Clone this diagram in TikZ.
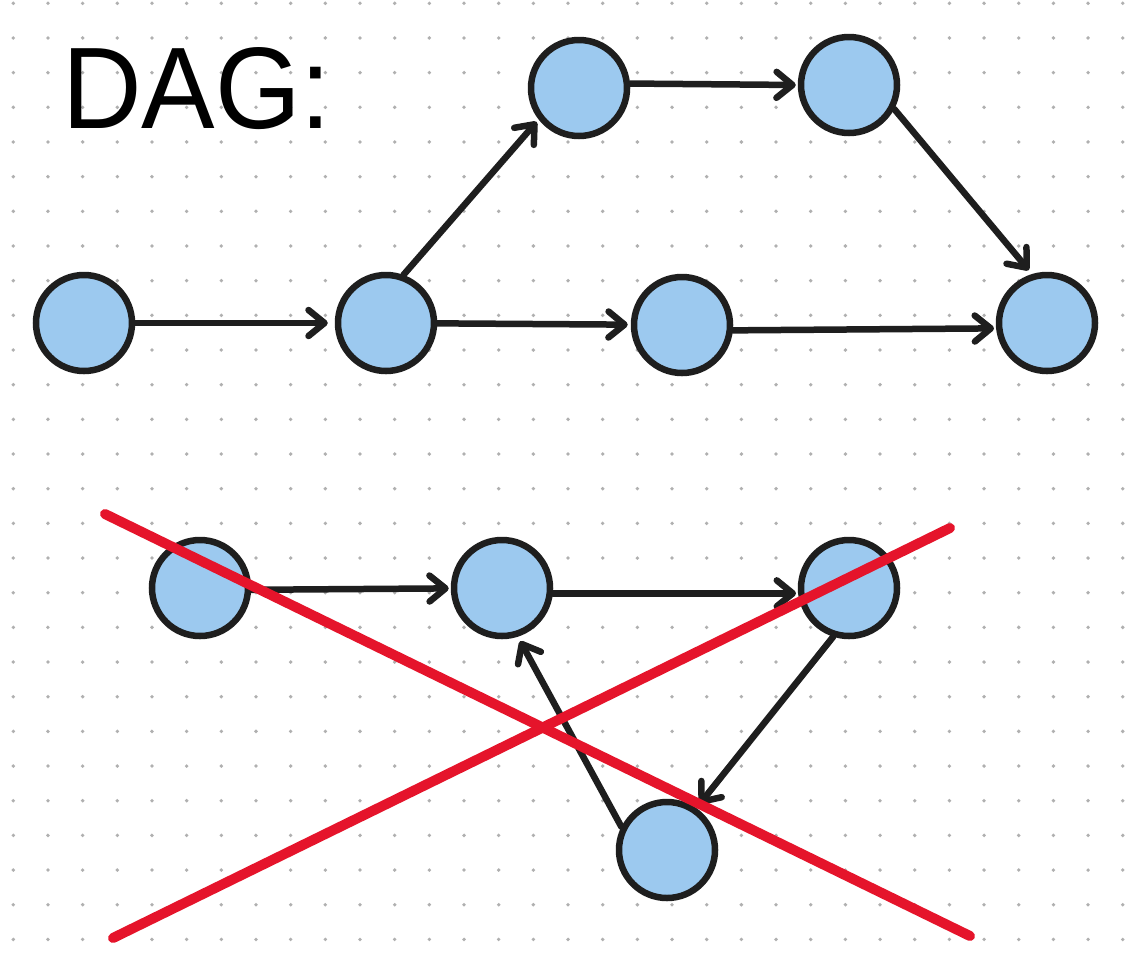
\documentclass[tikz,border=0pt]{standalone}
\usepackage{fontspec}
\setmainfont{Liberation Sans}
\usetikzlibrary{arrows.meta}
\definecolor{nodefill}{HTML}{9CC9EF}
\definecolor{ink}{HTML}{1E1E1E}
\definecolor{crossred}{HTML}{E5142B}
\definecolor{dotgrey}{HTML}{B0B0B0}
\begin{document}
\begin{tikzpicture}[x=1pt,y=-1pt,
  vert/.style={circle,draw=ink,fill=nodefill,line width=6.5pt,minimum size=96pt,inner sep=0pt},
  edge/.style={draw=ink,line width=6.5pt,line cap=round,
    -{Straight Barb[length=16pt,width=26pt,line width=6.5pt,round]}},
  cross/.style={draw=crossred,line width=10pt,line cap=round}]
\useasboundingbox (0,0) rectangle (1142,962);
\fill[white] (0,0) rectangle (1142,962);
% dot grid
\foreach \i in {0,...,32}{
  \foreach \j in {0,...,27}{
    \fill[dotgrey] (13.3+34.67*\i,3.3+34.67*\j) circle (1.9pt);
  }
}
\node[anchor=base west,inner sep=0pt,xscale=0.95,font=\fontsize{116}{116}\selectfont] (title) at (62,128) {DAG:};
% top graph
\node[vert] (A) at (84,323) {};
\node[vert] (B) at (386,323) {};
\node[vert] (C) at (579,88) {};
\node[vert] (D) at (849,85) {};
\node[vert] (E) at (682,325) {};
\node[vert] (F) at (1047,323) {};
\draw[edge,shorten >=7pt] (A) -- (B);
\draw[edge,shorten >=3pt] (B.70) -- (C.218);
\draw[edge,shorten >=3pt] (B) -- (E);
\draw[edge,shorten >=2pt] (C.5) -- (D.180);
\draw[edge,shorten >=5pt] (D.-28) -- (F.107);
\draw[edge,shorten >=2pt] (E.-6) -- (F.186);
% bottom graph
\node[vert] (G) at (200,588) {};
\node[vert] (H) at (502,588) {};
\node[vert] (I) at (849,588) {};
\node[vert] (J) at (667,850) {};
\draw[edge,shorten >=2pt] (G.-2) -- (H);
\draw[edge,shorten >=2pt] (H.-6.5) -- (I.186.5);
\draw[edge,shorten >=5pt] (I.252) -- (J.55);
\draw[edge,shorten >=5pt] (J.153) -- (H.288);
% cross
\coordinate (r1s) at (105,514);
\coordinate (r1e) at (970,936);
\coordinate (r2s) at (113,938);
\coordinate (r2e) at (950,528);
\draw[cross] (r1s) -- (r1e);
\draw[cross] (r2s) -- (r2e);
\end{tikzpicture}
\end{document}
